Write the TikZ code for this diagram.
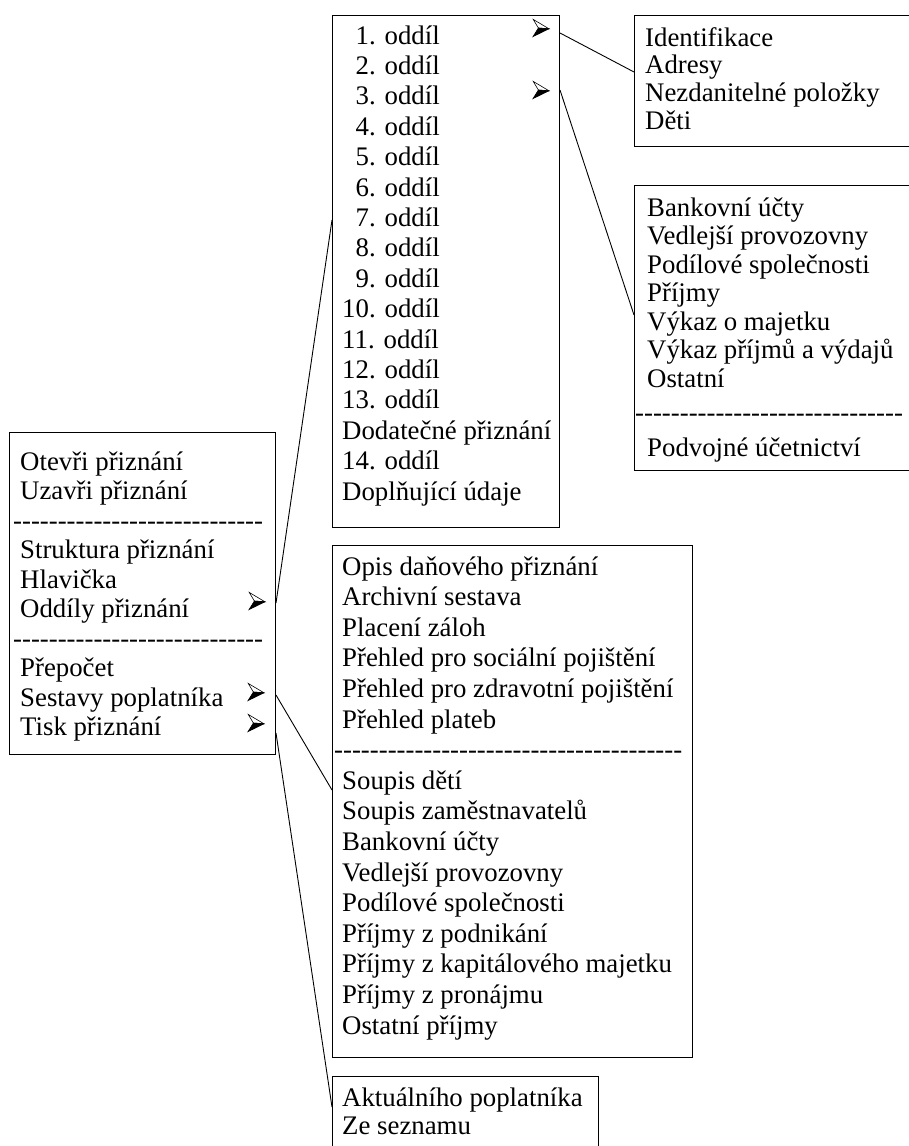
\documentclass[tikz,border=0pt]{standalone}
\usepackage{fontspec}
\setmainfont{Liberation Serif}
\usetikzlibrary{calc}
\newcommand\dashrow[1]{\foreach \k in {1,...,#1}{\mbox{-}}}
\newcommand\mitem[1]{\hbox{#1}}
\newcommand\mdash[2]{\hbox{\kern#1pt\dashrow{#2}}}
\newcommand\menubody[2]{\vtop{\baselineskip=#1pt\lineskiplimit=-100pt\lineskip=0pt\relax #2}}
\newcommand\ph{\phantom{1}}
% 3-D arrowhead (submenu mark) drawn around a named node
\newcommand\subarrow[1]{%
  \filldraw[fill=white, draw=black, line width=0.6pt, line join=miter]
    ($(#1)+(-7.8,-8.6)$) -- ($(#1)+(8,0.8)$) -- ($(#1)+(-2.6,0)$) -- cycle;
  \filldraw[fill=black, draw=black, line width=0.6pt, line join=miter]
    ($(#1)+(-2.6,0)$) -- ($(#1)+(8,0.8)$) -- ($(#1)+(-8,8.6)$) -- cycle;}
\begin{document}
\begin{tikzpicture}[x=1pt,y=-1pt,
  frame/.style={draw, line width=1pt, anchor=north west, inner sep=0pt},
  txt/.style={anchor=base west, inner sep=0pt, font=\fontsize{26.8}{30}\selectfont},
  submark/.style={inner sep=0pt, minimum size=16pt},
  conn/.style={draw, line width=0.9pt}]
\useasboundingbox (0,0) rectangle (909,1146);
\clip (0,0) rectangle (909,1146);

% frames
\node[frame, minimum width=266pt, minimum height=322pt] (lbox) at (9,432) {};
\node[frame, minimum width=227pt, minimum height=512pt] (oddil) at (332,15) {};
\node[frame, minimum width=300pt, minimum height=131pt] (ident) at (634,15) {};
\node[frame, minimum width=300pt, minimum height=285pt] (bank) at (634,185) {};
\node[frame, minimum width=360pt, minimum height=512pt] (opis) at (332,545) {};
\node[frame, minimum width=266pt, minimum height=100pt] (aktual) at (332,1076) {};

% texts
\node[txt] (lboxT) at (20,470) {\menubody{29.5}{%
  \mitem{Otevři přiznání}\mitem{Uzavři přiznání}%
  \mdash{-7}{28}%
  \mitem{Struktura přiznání}\mitem{Hlavička}\mitem{Oddíly přiznání}%
  \mdash{-7}{28}%
  \mitem{Přepočet}\mitem{Sestavy poplatníka}\mitem{Tisk přiznání}}};

\node[txt] (oddilT) at (342,44) {\menubody{30.4}{%
  \mitem{\ph1. oddíl}\mitem{\ph2. oddíl}\mitem{\ph3. oddíl}\mitem{\ph4. oddíl}%
  \mitem{\ph5. oddíl}\mitem{\ph6. oddíl}\mitem{\ph7. oddíl}\mitem{\ph8. oddíl}%
  \mitem{\ph9. oddíl}\mitem{10. oddíl}\mitem{11. oddíl}\mitem{12. oddíl}%
  \mitem{13. oddíl}\mitem{Dodatečné přiznání}\mitem{14. oddíl}\mitem{Doplňující údaje}}};

\node[txt] (identT) at (645,46) {\menubody{27.7}{%
  \mitem{Identifikace}\mitem{Adresy}\mitem{Nezdanitelné položky}\mitem{Děti}}};

\node[txt] (bankT) at (647,216) {\menubody{28.5}{%
  \mitem{Bankovní účty}\mitem{Vedlejší provozovny}\mitem{Podílové společnosti}%
  \mitem{Příjmy}\mitem{Výkaz o majetku}\mitem{Výkaz příjmů a výdajů}\mitem{Ostatní}%
  \vskip6pt\mdash{-12}{30}\vskip6pt
  \mitem{Podvojné účetnictví}}};

\node[txt] (opisT) at (342,575) {\menubody{30.6}{%
  \mitem{Opis daňového přiznání}\mitem{Archivní sestava}\mitem{Placení záloh}%
  \mitem{Přehled pro sociální pojištění}\mitem{Přehled pro zdravotní pojištění}%
  \mitem{Přehled plateb}%
  \mdash{-8}{39}%
  \mitem{Soupis dětí}\mitem{Soupis zaměstnavatelů}\mitem{Bankovní účty}%
  \mitem{Vedlejší provozovny}\mitem{Podílové společnosti}\mitem{Příjmy z podnikání}%
  \mitem{Příjmy z kapitálového majetku}\mitem{Příjmy z pronájmu}\mitem{Ostatní příjmy}}};

\node[txt] (aktualT) at (342,1106) {\menubody{28}{%
  \mitem{Aktuálního poplatníka}\mitem{Ze seznamu}}};

% submenu arrowheads
\node[submark] (a1) at (541,28) {};
\node[submark] (a2) at (541,90) {};
\node[submark] (a3) at (257,601) {};
\node[submark] (a4) at (256,692) {};
\node[submark] (a5) at (256,723) {};
\subarrow{a1}\subarrow{a2}\subarrow{a3}\subarrow{a4}\subarrow{a5}

% connectors
\draw[conn] ([yshift=-18pt]oddil.north east) -- ([yshift=-57pt]ident.north west);
\draw[conn] ([yshift=-75pt]oddil.north east) -- ([yshift=-130pt]bank.north west);
\draw[conn] ([yshift=-171pt]lbox.north east) -- ([yshift=-205pt]oddil.north west);
\draw[conn] ([yshift=-263pt]lbox.north east) -- ([yshift=-245pt]opis.north west);
\draw[conn] ([yshift=-301pt]lbox.north east) -- ([yshift=-31pt]aktual.north west);
\end{tikzpicture}
\end{document}
